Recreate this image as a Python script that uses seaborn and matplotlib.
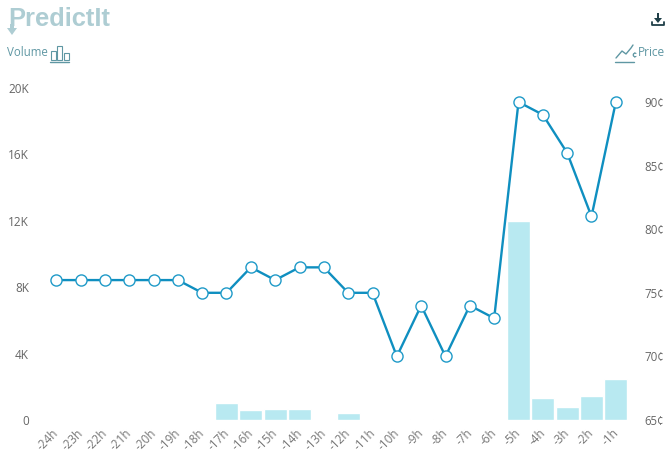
import matplotlib
matplotlib.use("Agg")
import matplotlib.pyplot as plt
import matplotlib.transforms as mtrans
import seaborn as sns
from matplotlib.patches import Rectangle, Polygon

# data
hours = ["-24h", "-23h", "-22h", "-21h", "-20h", "-19h", "-18h", "-17h", "-16h", "-15h", "-14h", "-13h",
         "-12h", "-11h", "-10h", "-9h", "-8h", "-7h", "-6h", "-5h", "-4h", "-3h", "-2h", "-1h"]
volume = [0, 0, 0, 0, 0, 0, 0, 1000, 600, 650, 650, 80,
          450, 0, 0, 80, 0, 0, 0, 12000, 1350, 800, 1450, 2500]
price = [76, 76, 76, 76, 76, 76, 75, 75, 77, 76, 77, 77,
         75, 75, 70, 74, 70, 74, 73, 90, 89, 86, 81, 90]
vol_ticks = [0, 4000, 8000, 12000, 16000, 20000]
vol_labels = ["0", "4K", "8K", "12K", "16K", "20K"]
price_ticks = [65, 70, 75, 80, 85, 90]
price_labels = ["65¢", "70¢", "75¢", "80¢", "85¢", "90¢"]

W, H = 670, 453
sns.set_style("white")
plt.rcParams['font.family'] = ['Open Sans', 'DejaVu Sans']

fig = plt.figure(figsize=(W / 100, H / 100), dpi=100)
# plot area in pixels: x 44-628, y 88-420
ax = fig.add_axes([44 / W, 1 - 420 / H, 584 / W, 332 / H])

# volume bars
sns.barplot(x=hours, y=volume, color="#b8e9f1", saturation=1, width=0.94, ax=ax)
ax.set_xlim(-0.5, 23.5)
ax.set_ylim(0, 20000)
ax.set_yticks(vol_ticks)
ax.set_yticklabels(vol_labels)
ax.tick_params(axis='y', labelsize=8.5, labelcolor="#666666", length=0, pad=10.8)
ax.tick_params(axis='x', labelsize=8.5, labelcolor="#777777", length=0, pad=4.5)
# labels sit a little left of their tick
shift = mtrans.ScaledTranslation(-4 / 100, 0, fig.dpi_scale_trans)
for lab in ax.get_xticklabels():
    lab.set_rotation(45)
    lab.set_ha('right')
    lab.set_rotation_mode('anchor')
    lab.set_transform(lab.get_transform() + shift)

# price line on second axis
ax2 = ax.twinx()
sns.pointplot(x=hours, y=price, color="#0f8fc0", linewidth=1.7, ax=ax2,
              markers="o", markersize=8, markerfacecolor="white",
              markeredgecolor="#1f9ac8", markeredgewidth=1.0)
ax2.set_xlim(-0.5, 23.5)
ax2.set_ylim(65, 65 + 332 / 63.6 * 5)
ax2.set_yticks(price_ticks)
ax2.set_yticklabels(price_labels)
ax2.tick_params(axis='y', labelsize=8.3, labelcolor="#666666", length=0, pad=11.5)
ax2.set_xlabel("")
ax2.set_ylabel("")
ax.set_ylabel("")
for a in (ax, ax2):
    for s in a.spines.values():
        s.set_visible(False)
ax.set_zorder(1)
ax2.set_zorder(2)
ax2.patch.set_visible(False)

# header: logo, axis captions and icons, drawn in pixel coordinates
deco = fig.add_axes([0, 0, 1, 1], zorder=5)
deco.set_xlim(0, W)
deco.set_ylim(H, 0)
deco.axis("off")
logo = "#aecdd3"
deco.text(8, 18.5, "PredictIt", fontsize=18.4, fontweight='bold', color=logo, va='center', ha='left',
          family='Liberation Sans')
deco.add_patch(Rectangle((10, 24), 4, 5, color=logo, lw=0))
deco.add_patch(Polygon([(7, 28), (17, 28), (12, 35)], color=logo, lw=0))

teal = "#5f97a3"
deco.text(7, 53, "Volume", fontsize=8.3, color=teal, va='center', ha='left')
for x0, top in [(51, 51), (57, 46), (64, 53)]:
    deco.add_patch(Rectangle((x0, top), 4.5, 60 - top, fill=False, ec=teal, lw=0.8))
deco.plot([50, 69], [61.5, 61.5], color=teal, lw=1)

deco.text(665, 53, "Price", fontsize=8.6, color=teal, va='center', ha='right')
deco.plot([616, 622, 626, 631, 633], [58, 51, 54, 48, 45], color=teal, lw=1)
deco.text(634, 55, "¢", fontsize=6.5, color=teal, va='center', ha='center', fontweight='bold')
deco.plot([615, 634], [62, 62], color=teal, lw=1)

# download icon
dark = "#1f3f48"
deco.plot([652, 652, 664, 664], [22, 25, 25, 22], color=dark, lw=1.3)
deco.add_patch(Rectangle((657.2, 13), 1.6, 5, color=dark, lw=0))
deco.add_patch(Polygon([(654, 18), (662, 18), (658, 23)], color=dark, lw=0))

plt.savefig("out.png", dpi=100)
